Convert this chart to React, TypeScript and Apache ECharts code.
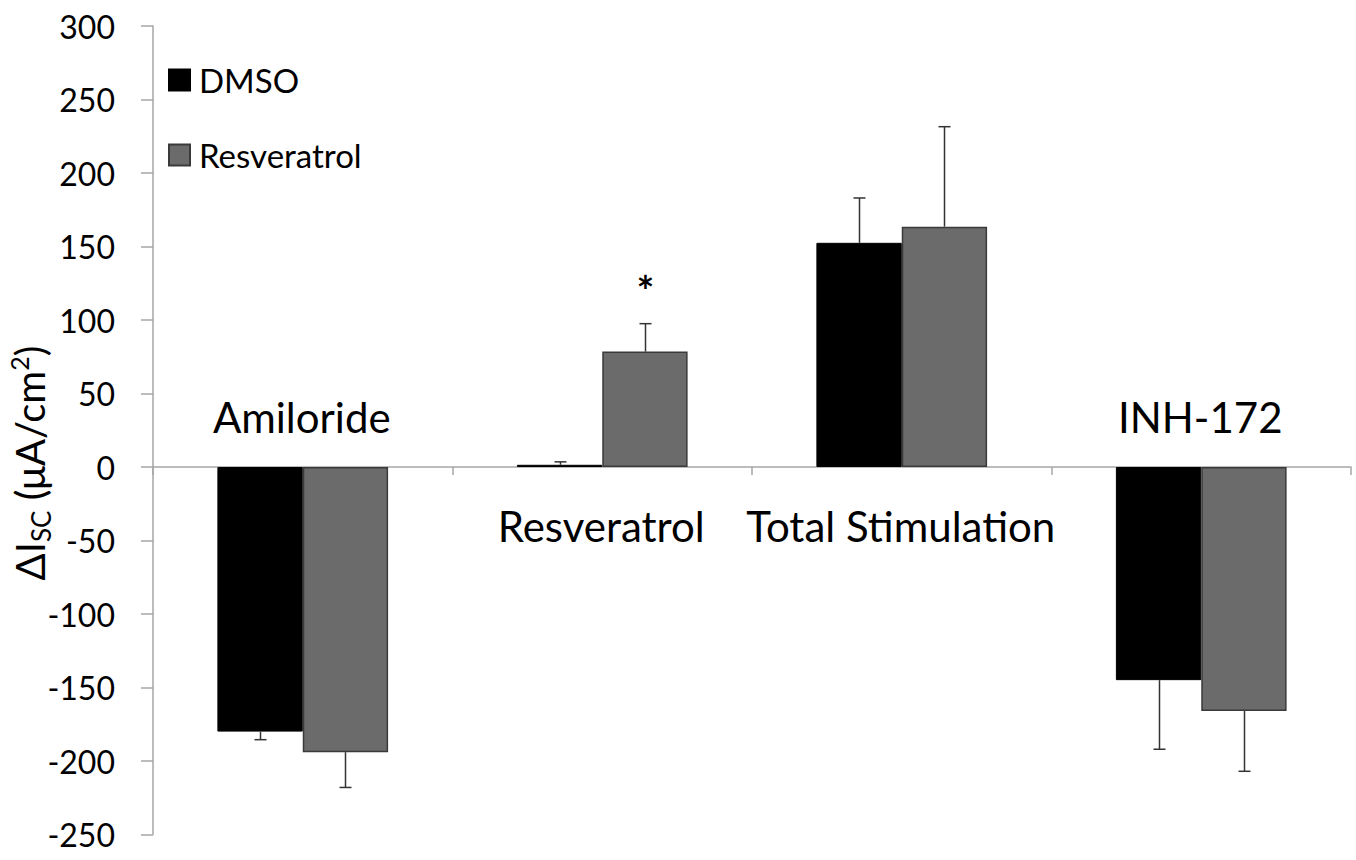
import React, { useEffect, useRef } from "react";
import * as echarts from "echarts";

const categories = ["Amiloride", "Resveratrol", "Total Stimulation", "INH-172"];
const labelSide = ["above", "below", "below", "above"];
const seriesNames = ["DMSO", "Resveratrol"];
const dmsoValues = [-180, 1.5, 152.5, -145];
const dmsoErrors = [5.5, 2, 30.5, 47];
const resveratrolValues = [-194, 78.5, 163.5, -166];
const resveratrolErrors = [24, 19, 68, 41];
const significance = ["", "*", "", ""];
const yMin = -250;
const yMax = 300;
const yInterval = 50;

const FONT = "Lato";
const GAP = 0.43;

export default function App() {
  const ref = useRef<HTMLDivElement>(null);
  useEffect(() => {
    const chart = echarts.init(ref.current!, null, { renderer: "svg" });

    const makeErr = (name: string, values: number[], errs: number[], side: number, sig: string[]) => ({
      type: "custom",
      name,
      z: 5,
      data: values.map((v, i) => [i, v, errs[i]]),
      encode: { x: 0, y: 1 },
      renderItem: (params: any, api: any) => {
        const i = api.value(0);
        const v = api.value(1);
        const e = api.value(2);
        const band = api.size([1, 0])[0];
        const bw = (band * (1 - GAP)) / 2;
        const dx = (side * bw) / 2;
        const p0 = api.coord([i, v]);
        const p1 = api.coord([i, v + (v >= 0 ? 1 : -1) * e]);
        const x = Math.round(p0[0] + dx) + 0.5;
        const stroke = { stroke: "#333", lineWidth: 1.5 };
        const children: any[] = [
          { type: "line", shape: { x1: x, y1: p0[1], x2: x, y2: p1[1] }, style: stroke },
          { type: "line", shape: { x1: x - 6, y1: p1[1], x2: x + 6, y2: p1[1] }, style: stroke },
        ];
        const s = sig[params.dataIndex];
        if (s) {
          children.push({
            type: "text",
            x: x,
            y: p1[1] - 33,
            style: {
              text: s,
              fill: "#000",
              font: `bold 42px ${FONT}`,
              align: "center",
              verticalAlign: "middle",
            },
          });
        }
        return { type: "group", children };
      },
    });

    const labelSeries = {
      type: "custom",
      name: "category labels",
      z: 6,
      data: categories.map((c, i) => [i, 0]),
      encode: { x: 0, y: 1 },
      renderItem: (params: any, api: any) => {
        const p = api.coord([api.value(0), 0]);
        const up = labelSide[params.dataIndex] === "above";
        return {
          type: "text",
          x: p[0] - 1,
          y: p[1] + (up ? -50 : 59),
          style: {
            text: categories[params.dataIndex],
            fill: "#000",
            font: `42px ${FONT}`,
            align: "center",
            verticalAlign: "middle",
          },
        };
      },
    };

    chart.setOption({
      animation: false,
      backgroundColor: "#fff",
      textStyle: { fontFamily: FONT },
      grid: { left: 153, right: 5, top: 26, bottom: 25.5, containLabel: false, outerBoundsMode: "none" },
      legend: {
        data: seriesNames,
        orient: "vertical",
        left: 168,
        top: 63,
        itemWidth: 21,
        itemHeight: 21,
        itemGap: 41,
        icon: "rect",
        padding: 0,
        textStyle: { fontSize: 33, lineHeight: 34, color: "#000", fontFamily: FONT, padding: [0, 0, 0, 4] },
      },
      xAxis: {
        type: "category",
        data: categories,
        axisLine: { show: true, onZero: true, lineStyle: { color: "#a6a6a6", width: 1.5 } },
        axisTick: { show: true, length: 8, lineStyle: { color: "#a6a6a6", width: 1.5 } },
        axisLabel: { show: false },
        splitLine: { show: false },
      },
      yAxis: {
        type: "value",
        min: yMin,
        max: yMax,
        interval: yInterval,
        axisLine: { show: true, lineStyle: { color: "#a6a6a6", width: 1.5 } },
        axisTick: { show: true, length: 12, lineStyle: { color: "#a6a6a6", width: 1.5 } },
        axisLabel: { margin: 38, fontSize: 32, color: "#000", fontFamily: FONT },
        splitLine: { show: false },
      },
      graphic: [
        {
          type: "text",
          x: 30,
          y: 463,
          rotation: Math.PI / 2,
          style: {
            text: "{a|ΔI}{sub|SC}{a| (μA/cm}{sup|2}{a|)}",
            align: "center",
            verticalAlign: "middle",
            fill: "#000",
            rich: {
              a: { fontSize: 40, fontFamily: FONT, fill: "#000", lineHeight: 48 },
              sub: { fontSize: 26, fontFamily: FONT, fill: "#000", verticalAlign: "bottom", lineHeight: 48 },
              sup: { fontSize: 25, fontFamily: FONT, fill: "#000", verticalAlign: "top", lineHeight: 48 },
            },
          },
        },
      ],
      series: [
        {
          type: "bar",
          name: seriesNames[0],
          data: dmsoValues,
          barGap: "0%",
          barCategoryGap: `${GAP * 100}%`,
          itemStyle: { color: "#000", borderColor: "#000", borderWidth: 1 },
        },
        {
          type: "bar",
          name: seriesNames[1],
          data: resveratrolValues,
          barGap: "0%",
          barCategoryGap: `${GAP * 100}%`,
          itemStyle: { color: "#6b6b6b", borderColor: "#3a3a3a", borderWidth: 1.5 },
        },
        makeErr("DMSO err", dmsoValues, dmsoErrors, -1, ["", "", "", ""]),
        makeErr("Resveratrol err", resveratrolValues, resveratrolErrors, 1, significance),
        labelSeries,
      ],
    });
    return () => chart.dispose();
  }, []);
  return (
    <div
      ref={ref}
      style={{ position: "fixed", left: 0, top: 0, width: 1356, height: 860 }}
    />
  );
}
